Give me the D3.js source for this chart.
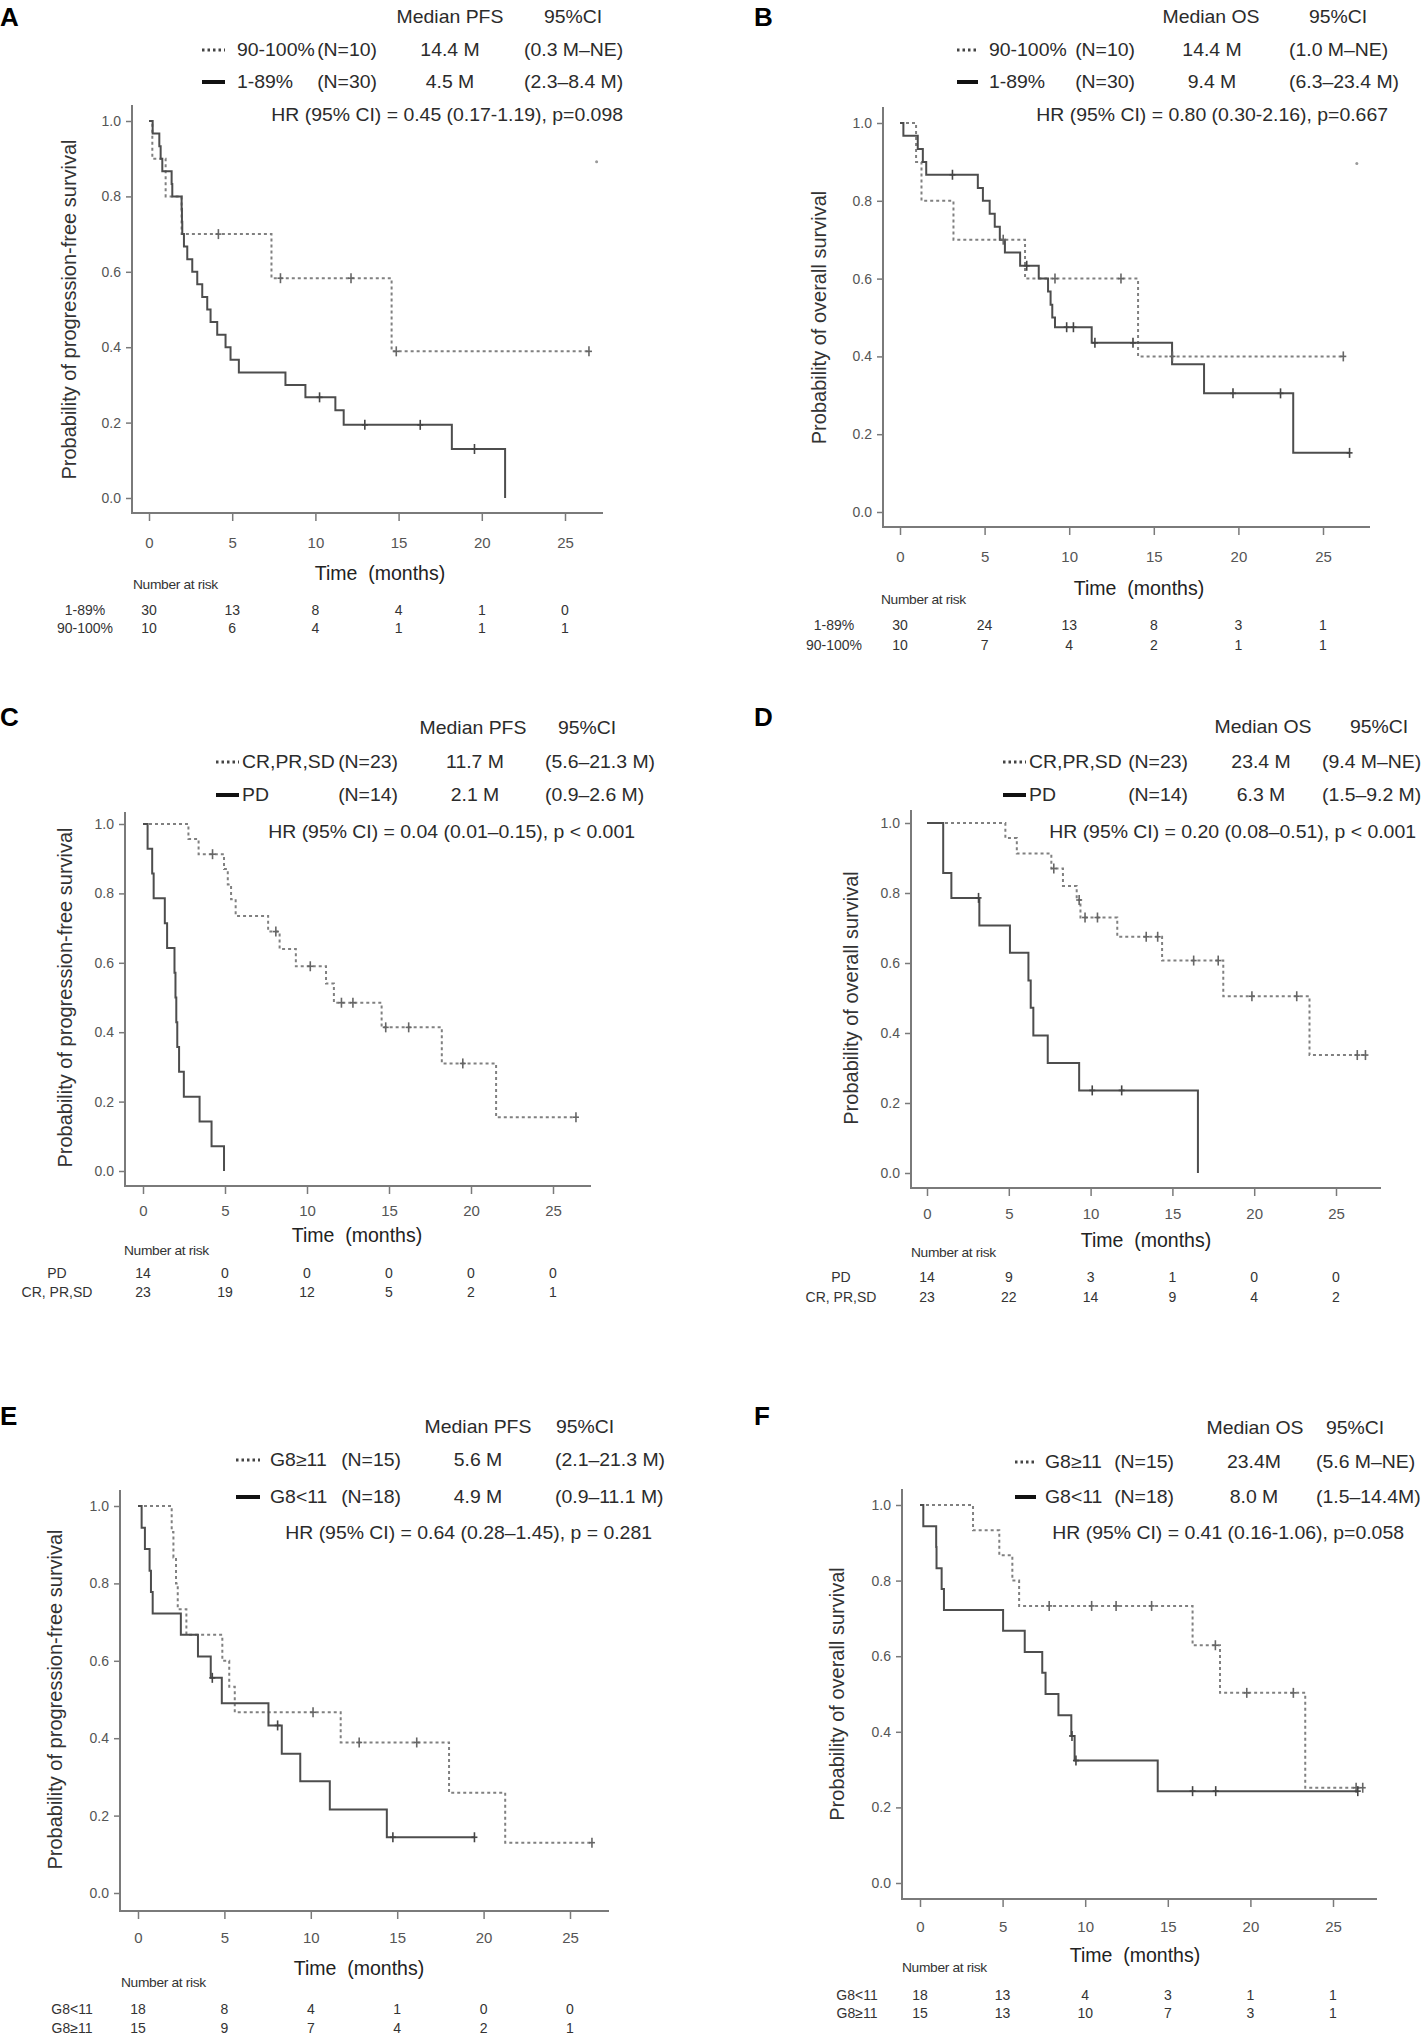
<!DOCTYPE html>
<html lang="en">
<head>
<meta charset="utf-8" />
<title>Kaplan-Meier curves by subgroup</title>
<script src="https://cdn.jsdelivr.net/npm/d3@7"></script>
<style>
  body { margin: 0; background: #fff; }
  svg { display: block; font-family: "Liberation Sans", Arial, sans-serif; }
</style>
</head>
<body>
<div id="chart"></div>
<script>
// shared axis ticks
const timeTicks = [0, 5, 10, 15, 20, 25];
const survTicks = [0, 0.2, 0.4, 0.6, 0.8, 1.0];

// panel texts
const panelIds = ["A", "B", "C", "D", "E", "F"];
const yTitles = [
  "Probability of progression-free survival",
  "Probability of overall survival",
  "Probability of progression-free survival",
  "Probability of overall survival",
  "Probability of progression-free survival",
  "Probability of overall survival",
];
const medianHeads = ["Median PFS", "Median OS", "Median PFS", "Median OS", "Median PFS", "Median OS"];
const dottedGroups = ["90-100%", "90-100%", "CR,PR,SD", "CR,PR,SD", "G8≥11", "G8≥11"];
const dottedN = ["(N=10)", "(N=10)", "(N=23)", "(N=23)", "(N=15)", "(N=15)"];
const solidGroups = ["1-89%", "1-89%", "PD", "PD", "G8<11", "G8<11"];
const solidN = ["(N=30)", "(N=30)", "(N=14)", "(N=14)", "(N=18)", "(N=18)"];
const dottedMedians = ["14.4 M", "14.4 M", "11.7 M", "23.4 M", "5.6 M", "23.4M"];
const solidMedians = ["4.5 M", "9.4 M", "2.1 M", "6.3 M", "4.9 M", "8.0 M"];
const dottedCIs = ["(0.3 M–NE)", "(1.0 M–NE)", "(5.6–21.3 M)", "(9.4 M–NE)", "(2.1–21.3 M)", "(5.6 M–NE)"];
const solidCIs = ["(2.3–8.4 M)", "(6.3–23.4 M)", "(0.9–2.6 M)", "(1.5–9.2 M)", "(0.9–11.1 M)", "(1.5–14.4M)"];
const hrTexts = [
  "HR (95% CI) = 0.45 (0.17-1.19), p=0.098",
  "HR (95% CI) = 0.80 (0.30-2.16), p=0.667",
  "HR (95% CI) = 0.04 (0.01–0.15), p < 0.001",
  "HR (95% CI) = 0.20 (0.08–0.51), p < 0.001",
  "HR (95% CI) = 0.64 (0.28–1.45), p = 0.281",
  "HR (95% CI) = 0.41 (0.16-1.06), p=0.058",
];

// number at risk
const riskLabels = [
  ["1-89%", "90-100%"], ["1-89%", "90-100%"],
  ["PD", "CR, PR,SD"], ["PD", "CR, PR,SD"],
  ["G8<11", "G8≥11"], ["G8<11", "G8≥11"],
];
const riskA = [[30, 13, 8, 4, 1, 0], [10, 6, 4, 1, 1, 1]];
const riskB = [[30, 24, 13, 8, 3, 1], [10, 7, 4, 2, 1, 1]];
const riskC = [[14, 0, 0, 0, 0, 0], [23, 19, 12, 5, 2, 1]];
const riskD = [[14, 9, 3, 1, 0, 0], [23, 22, 14, 9, 4, 2]];
const riskE = [[18, 8, 4, 1, 0, 0], [15, 9, 7, 4, 2, 1]];
const riskF = [[18, 13, 4, 3, 1, 1], [15, 13, 10, 7, 3, 1]];

// survival steps [month, survival]
const aSolid = [[0, 1], [0.22, 0.967], [0.62, 0.933], [0.7, 0.9], [0.8, 0.867], [1.36, 0.833], [1.4, 0.8], [1.96, 0.767], [1.98, 0.733], [2.0, 0.7], [2.1, 0.667], [2.3, 0.633], [2.6, 0.6], [2.9, 0.567], [3.2, 0.533], [3.5, 0.5], [3.7, 0.467], [4.1, 0.433], [4.6, 0.4], [4.9, 0.367], [5.4, 0.333], [8.2, 0.3], [9.4, 0.267], [11.2, 0.233], [11.7, 0.194], [18.2, 0.13], [21.4, 0]];
const aSolidCensor = [[10.25, 0.267], [12.97, 0.194], [16.3, 0.194], [19.56, 0.13]];
const aDotted = [[0, 1], [0.2, 0.9], [1.0, 0.8], [1.96, 0.7], [7.36, 0.583], [14.58, 0.389], [26.44, 0.389]];
const aDottedCensor = [[4.17, 0.7], [7.9, 0.583], [12.14, 0.583], [14.86, 0.389], [26.44, 0.389]];

const bSolid = [[0, 1], [0.2, 0.967], [1.05, 0.933], [1.35, 0.9], [1.55, 0.867], [4.6, 0.833], [4.9, 0.8], [5.3, 0.767], [5.6, 0.733], [5.9, 0.7], [6.2, 0.667], [7.1, 0.633], [8.2, 0.6], [8.75, 0.567], [8.9, 0.533], [9.0, 0.5], [9.16, 0.475], [11.33, 0.435], [16.08, 0.38], [17.97, 0.305], [23.24, 0.152], [26.57, 0.152]];
const bSolidCensor = [[3.1, 0.867], [7.49, 0.633], [9.85, 0.475], [10.25, 0.475], [11.52, 0.435], [13.77, 0.435], [19.68, 0.305], [22.49, 0.305], [26.57, 0.152]];
const bDotted = [[0, 1], [0.95, 0.9], [1.27, 0.8], [3.16, 0.7], [7.39, 0.6], [14.07, 0.4], [26.2, 0.4]];
const bDottedCensor = [[6.1, 0.7], [9.16, 0.6], [13.06, 0.6], [16.1, 0.4], [26.2, 0.4]];

const cSolid = [[0, 1], [0.28, 0.929], [0.56, 0.857], [0.65, 0.786], [1.33, 0.714], [1.47, 0.643], [1.92, 0.571], [1.98, 0.5], [2.03, 0.429], [2.09, 0.357], [2.2, 0.286], [2.49, 0.214], [3.45, 0.143], [4.18, 0.071], [4.94, 0]];
const cSolidCensor = [];
const cDotted = [[0, 1], [2.77, 0.957], [3.39, 0.913], [4.94, 0.87], [5.17, 0.826], [5.37, 0.783], [5.65, 0.735], [7.63, 0.69], [8.33, 0.64], [9.32, 0.59], [11.16, 0.54], [11.64, 0.485], [14.55, 0.414], [18.22, 0.31], [21.53, 0.155], [26.4, 0.155]];
const cDottedCensor = [[4.24, 0.913], [8.1, 0.69], [10.2, 0.59], [12.1, 0.485], [12.8, 0.485], [14.8, 0.414], [16.2, 0.414], [19.5, 0.31], [26.4, 0.155]];

const dSolid = [[0, 1], [0.99, 0.857], [1.49, 0.786], [3.2, 0.707], [5.07, 0.629], [6.2, 0.55], [6.34, 0.472], [6.5, 0.393], [7.38, 0.314], [9.3, 0.236], [16.56, 0]];
const dSolidCensor = [[3.15, 0.786], [10.1, 0.236], [11.9, 0.236]];
const dDotted = [[0, 1], [4.79, 0.957], [5.49, 0.913], [7.6, 0.87], [8.31, 0.82], [9.15, 0.78], [9.38, 0.73], [11.63, 0.675], [14.37, 0.607], [18.11, 0.505], [23.38, 0.337], [26.8, 0.337]];
const dDottedCensor = [[7.75, 0.87], [9.3, 0.78], [9.66, 0.73], [10.42, 0.73], [13.4, 0.675], [14.1, 0.675], [16.3, 0.607], [17.8, 0.607], [19.86, 0.505], [22.6, 0.505], [26.3, 0.337], [26.8, 0.337]];

const eSolid = [[0, 1], [0.21, 0.944], [0.4, 0.889], [0.67, 0.833], [0.75, 0.778], [0.85, 0.722], [2.48, 0.667], [3.47, 0.611], [4.21, 0.556], [4.85, 0.49], [7.55, 0.433], [8.32, 0.36], [9.39, 0.289], [11.1, 0.216], [14.4, 0.144], [19.47, 0.144]];
const eSolidCensor = [[4.3, 0.556], [8.08, 0.433], [14.75, 0.144], [19.47, 0.144]];
const eDotted = [[0, 1], [1.95, 0.933], [2.05, 0.867], [2.2, 0.8], [2.3, 0.733], [2.8, 0.667], [4.88, 0.6], [5.28, 0.533], [5.6, 0.467], [11.73, 0.389], [18.0, 0.259], [21.25, 0.13], [26.27, 0.13]];
const eDottedCensor = [[10.13, 0.467], [12.8, 0.389], [16.13, 0.389], [26.27, 0.13]];

const fSolid = [[0, 1], [0.2, 0.944], [0.98, 0.889], [1.0, 0.833], [1.31, 0.778], [1.45, 0.722], [5.03, 0.667], [6.34, 0.611], [7.4, 0.556], [7.6, 0.5], [8.38, 0.444], [9.16, 0.389], [9.36, 0.324], [14.39, 0.243], [26.5, 0.243]];
const fSolidCensor = [[9.2, 0.389], [9.44, 0.324], [16.5, 0.243], [17.9, 0.243], [26.5, 0.243]];
const fDotted = [[0, 1], [3.21, 0.933], [4.8, 0.867], [5.59, 0.8], [6.0, 0.733], [16.5, 0.629], [18.16, 0.503], [23.32, 0.252], [26.8, 0.252]];
const fDottedCensor = [[7.82, 0.733], [10.39, 0.733], [11.87, 0.733], [14.02, 0.733], [17.88, 0.629], [19.78, 0.503], [22.6, 0.503], [26.4, 0.252], [26.8, 0.252]];

// stray specks in the top right corner of A and B
const aSpeck = [[26.9, 0.892]];
const bSpeck = [[27.0, 0.896]];

const curves = [
  { solid: aSolid, solidC: aSolidCensor, dotted: aDotted, dottedC: aDottedCensor, risk: riskA, speck: aSpeck },
  { solid: bSolid, solidC: bSolidCensor, dotted: bDotted, dottedC: bDottedCensor, risk: riskB, speck: bSpeck },
  { solid: cSolid, solidC: cSolidCensor, dotted: cDotted, dottedC: cDottedCensor, risk: riskC, speck: [] },
  { solid: dSolid, solidC: dSolidCensor, dotted: dDotted, dottedC: dDottedCensor, risk: riskD, speck: [] },
  { solid: eSolid, solidC: eSolidCensor, dotted: eDotted, dottedC: eDottedCensor, risk: riskE, speck: [] },
  { solid: fSolid, solidC: fSolidCensor, dotted: fDotted, dottedC: fDottedCensor, risk: riskF, speck: [] },
];

// page positions of each panel (pixels)
const layouts = [
  { labX: 0, labY: 17, headY: 17, row1Y: 50, row2Y: 82, hrY: 115, headMedX: 450, headCIX: 573, legX0: 202, legX1: 225, grpX: 237, nEndX: 377, medX: 450, ciX: 524, hrEndX: 623,
    x0: 149, x25: 565, y1: 121, y0: 498, axX: 132, axTop: 105, axY: 513, axRight: 603, tickLabY: 542, titleX: 380, titleY: 573, narX: 133, narY: 585, rowY: [610, 628], rowLabX: 85, yTitleX: 69 },
  { labX: 754, labY: 17, headY: 17, row1Y: 50, row2Y: 82, hrY: 115, headMedX: 1211, headCIX: 1338, legX0: 957, legX1: 978, grpX: 989, nEndX: 1135, medX: 1212, ciX: 1289, hrEndX: 1388,
    x0: 900, x25: 1323, y1: 123, y0: 512, axX: 883, axTop: 107, axY: 527, axRight: 1370, tickLabY: 556, titleX: 1139, titleY: 588, narX: 881, narY: 600, rowY: [625, 645], rowLabX: 834, yTitleX: 819 },
  { labX: 0, labY: 717, headY: 728, row1Y: 762, row2Y: 795, hrY: 832, headMedX: 473, headCIX: 587, legX0: 216, legX1: 239, grpX: 242, nEndX: 398, medX: 475, ciX: 545, hrEndX: 635,
    x0: 143, x25: 553, y1: 824, y0: 1171, axX: 125, axTop: 812, axY: 1186, axRight: 591, tickLabY: 1210, titleX: 357, titleY: 1235, narX: 124, narY: 1251, rowY: [1273, 1292], rowLabX: 57, yTitleX: 65 },
  { labX: 754, labY: 717, headY: 727, row1Y: 762, row2Y: 795, hrY: 832, headMedX: 1263, headCIX: 1379, legX0: 1003, legX1: 1026, grpX: 1029, nEndX: 1188, medX: 1261, ciX: 1322, hrEndX: 1416,
    x0: 927, x25: 1336, y1: 823, y0: 1173, axX: 911, axTop: 810, axY: 1188, axRight: 1381, tickLabY: 1213, titleX: 1146, titleY: 1240, narX: 911, narY: 1253, rowY: [1277, 1297], rowLabX: 841, yTitleX: 851 },
  { labX: 0, labY: 1416, headY: 1427, row1Y: 1460, row2Y: 1497, hrY: 1533, headMedX: 478, headCIX: 585, legX0: 236, legX1: 260, grpX: 270, nEndX: 401, medX: 478, ciX: 555, hrEndX: 652,
    x0: 138, x25: 570, y1: 1506, y0: 1893, axX: 120, axTop: 1490, axY: 1911, axRight: 609, tickLabY: 1937, titleX: 359, titleY: 1968, narX: 121, narY: 1983, rowY: [2009, 2028], rowLabX: 72, yTitleX: 55 },
  { labX: 754, labY: 1416, headY: 1428, row1Y: 1462, row2Y: 1497, hrY: 1533, headMedX: 1255, headCIX: 1355, legX0: 1015, legX1: 1036, grpX: 1045, nEndX: 1174, medX: 1254, ciX: 1316, hrEndX: 1404,
    x0: 920, x25: 1333, y1: 1505, y0: 1883, axX: 902, axTop: 1489, axY: 1899, axRight: 1377, tickLabY: 1926, titleX: 1135, titleY: 1955, narX: 902, narY: 1968, rowY: [1995, 2013], rowLabX: 857, yTitleX: 837 },
];

const svg = d3.select("#chart").append("svg").attr("width", 1426).attr("height", 2038);

const solidColor = "#4d4d4d";
const dottedColor = "#808080";
const axisColor = "#7a7a7a";
const textColor = "#2b2b2b";

// text in the source figure is a little wider than it is tall, so allow a horizontal stretch
function txt(g, x, y, s, size, anchor, fill, sx) {
  return g.append("text")
    .attr("transform", `translate(${x},${y}) scale(${sx || 1},1)`)
    .attr("dominant-baseline", "central")
    .attr("text-anchor", anchor || "start")
    .attr("font-size", size)
    .attr("fill", fill || textColor)
    .text(s);
}

const wide = 1.11;

panelIds.forEach((id, i) => {
  const L = layouts[i];
  const c = curves[i];
  const g = svg.append("g");

  const x = d3.scaleLinear().domain([0, 25]).range([L.x0, L.x25]);
  const y = d3.scaleLinear().domain([0, 1]).range([L.y0, L.y1]);

  // panel letter
  txt(g, L.labX, L.labY, id, 26, "start", "#000").attr("font-weight", "bold");

  // header table
  txt(g, L.headMedX, L.headY, medianHeads[i], 17.5, "middle", textColor, wide);
  txt(g, L.headCIX, L.headY, "95%CI", 17.5, "middle", textColor, wide);

  // dotted legend row
  g.append("line").attr("x1", L.legX0).attr("x2", L.legX1).attr("y1", L.row1Y).attr("y2", L.row1Y)
    .attr("stroke", "#444").attr("stroke-width", 3).attr("stroke-dasharray", "2.5,3");
  txt(g, L.grpX, L.row1Y, dottedGroups[i], 17.5, "start", textColor, wide);
  txt(g, L.nEndX, L.row1Y, dottedN[i], 17.5, "end", textColor, wide);
  txt(g, L.medX, L.row1Y, dottedMedians[i], 17.5, "middle", textColor, wide);
  txt(g, L.ciX, L.row1Y, dottedCIs[i], 17.5, "start", textColor, wide);

  // solid legend row
  g.append("line").attr("x1", L.legX0).attr("x2", L.legX1).attr("y1", L.row2Y).attr("y2", L.row2Y)
    .attr("stroke", "#111").attr("stroke-width", 4);
  txt(g, L.grpX, L.row2Y, solidGroups[i], 17.5, "start", textColor, wide);
  txt(g, L.nEndX, L.row2Y, solidN[i], 17.5, "end", textColor, wide);
  txt(g, L.medX, L.row2Y, solidMedians[i], 17.5, "middle", textColor, wide);
  txt(g, L.ciX, L.row2Y, solidCIs[i], 17.5, "start", textColor, wide);

  txt(g, L.hrEndX, L.hrY, hrTexts[i], 17.5, "end", textColor, wide);

  // axis lines (R style, detached corner)
  g.append("line").attr("x1", L.axX).attr("x2", L.axX).attr("y1", L.axTop).attr("y2", L.axY)
    .attr("stroke", axisColor).attr("stroke-width", 2);
  g.append("line").attr("x1", L.axX - 1).attr("x2", L.axRight).attr("y1", L.axY).attr("y2", L.axY)
    .attr("stroke", axisColor).attr("stroke-width", 2);

  // y axis ticks and labels
  const yAxis = g.append("g").attr("transform", `translate(${L.axX},0)`)
    .call(d3.axisLeft(y).tickValues(survTicks).tickFormat(d3.format(".1f")).tickSize(6).tickPadding(5));
  yAxis.select(".domain").remove();
  yAxis.selectAll(".tick line").attr("stroke", axisColor).attr("stroke-width", 1.5);
  yAxis.selectAll(".tick text").attr("font-size", 14).attr("fill", "#555")
    .attr("font-family", "'Liberation Sans', Arial, sans-serif");

  // x axis ticks and labels
  const xAxis = g.append("g").attr("transform", `translate(0,${L.axY})`)
    .call(d3.axisBottom(x).tickValues(timeTicks).tickFormat(d3.format("d")).tickSize(8).tickPadding(0));
  xAxis.select(".domain").remove();
  xAxis.selectAll(".tick line").attr("stroke", axisColor).attr("stroke-width", 1.5);
  xAxis.selectAll(".tick text").attr("font-size", 15).attr("fill", "#555")
    .attr("dy", null).attr("y", L.tickLabY - L.axY).attr("dominant-baseline", "central")
    .attr("font-family", "'Liberation Sans', Arial, sans-serif");

  // axis titles
  txt(g, L.titleX, L.titleY, "Time  (months)", 19.5, "middle", "#222").style("white-space", "pre");
  g.append("text")
    .attr("transform", `translate(${L.yTitleX},${(L.y0 + L.y1) / 2}) rotate(-90)`)
    .attr("text-anchor", "middle").attr("dominant-baseline", "central")
    .attr("font-size", 20).attr("fill", "#333")
    .text(yTitles[i]);

  // KM step curves
  const line = d3.line().curve(d3.curveStepAfter).x(d => x(d[0])).y(d => y(d[1]));
  g.append("path").datum(c.dotted).attr("d", line).attr("fill", "none")
    .attr("stroke", dottedColor).attr("stroke-width", 2).attr("stroke-dasharray", "3,3");
  g.append("path").datum(c.solid).attr("d", line).attr("fill", "none")
    .attr("stroke", solidColor).attr("stroke-width", 2);

  // censor marks
  const censor = (data, color) => {
    const m = g.selectAll(null).data(data).enter().append("g")
      .attr("transform", d => `translate(${x(d[0])},${y(d[1])})`);
    m.append("line").attr("x1", 0).attr("x2", 0).attr("y1", -5).attr("y2", 5).attr("stroke", color).attr("stroke-width", 1.6);
    m.append("line").attr("x1", -3).attr("x2", 3).attr("y1", 0).attr("y2", 0).attr("stroke", color).attr("stroke-width", 1.6);
  };
  censor(c.dottedC, "#666");
  censor(c.solidC, "#444");

  g.selectAll(null).data(c.speck).enter().append("circle")
    .attr("cx", d => x(d[0])).attr("cy", d => y(d[1])).attr("r", 1.5).attr("fill", "#999");

  // number at risk
  txt(g, L.narX, L.narY, "Number at risk", 12, "start", "#333", 1.15).attr("letter-spacing", -0.3);
  riskLabels[i].forEach((lab, r) => {
    txt(g, L.rowLabX, L.rowY[r], lab, 14, "middle", "#333");
    g.selectAll(null).data(c.risk[r]).enter().append("text")
      .attr("x", (d, k) => x(timeTicks[k]))
      .attr("y", L.rowY[r])
      .attr("text-anchor", "middle").attr("dominant-baseline", "central")
      .attr("font-size", 14).attr("fill", "#333")
      .text(d => d);
  });
});
</script>
</body>
</html>
